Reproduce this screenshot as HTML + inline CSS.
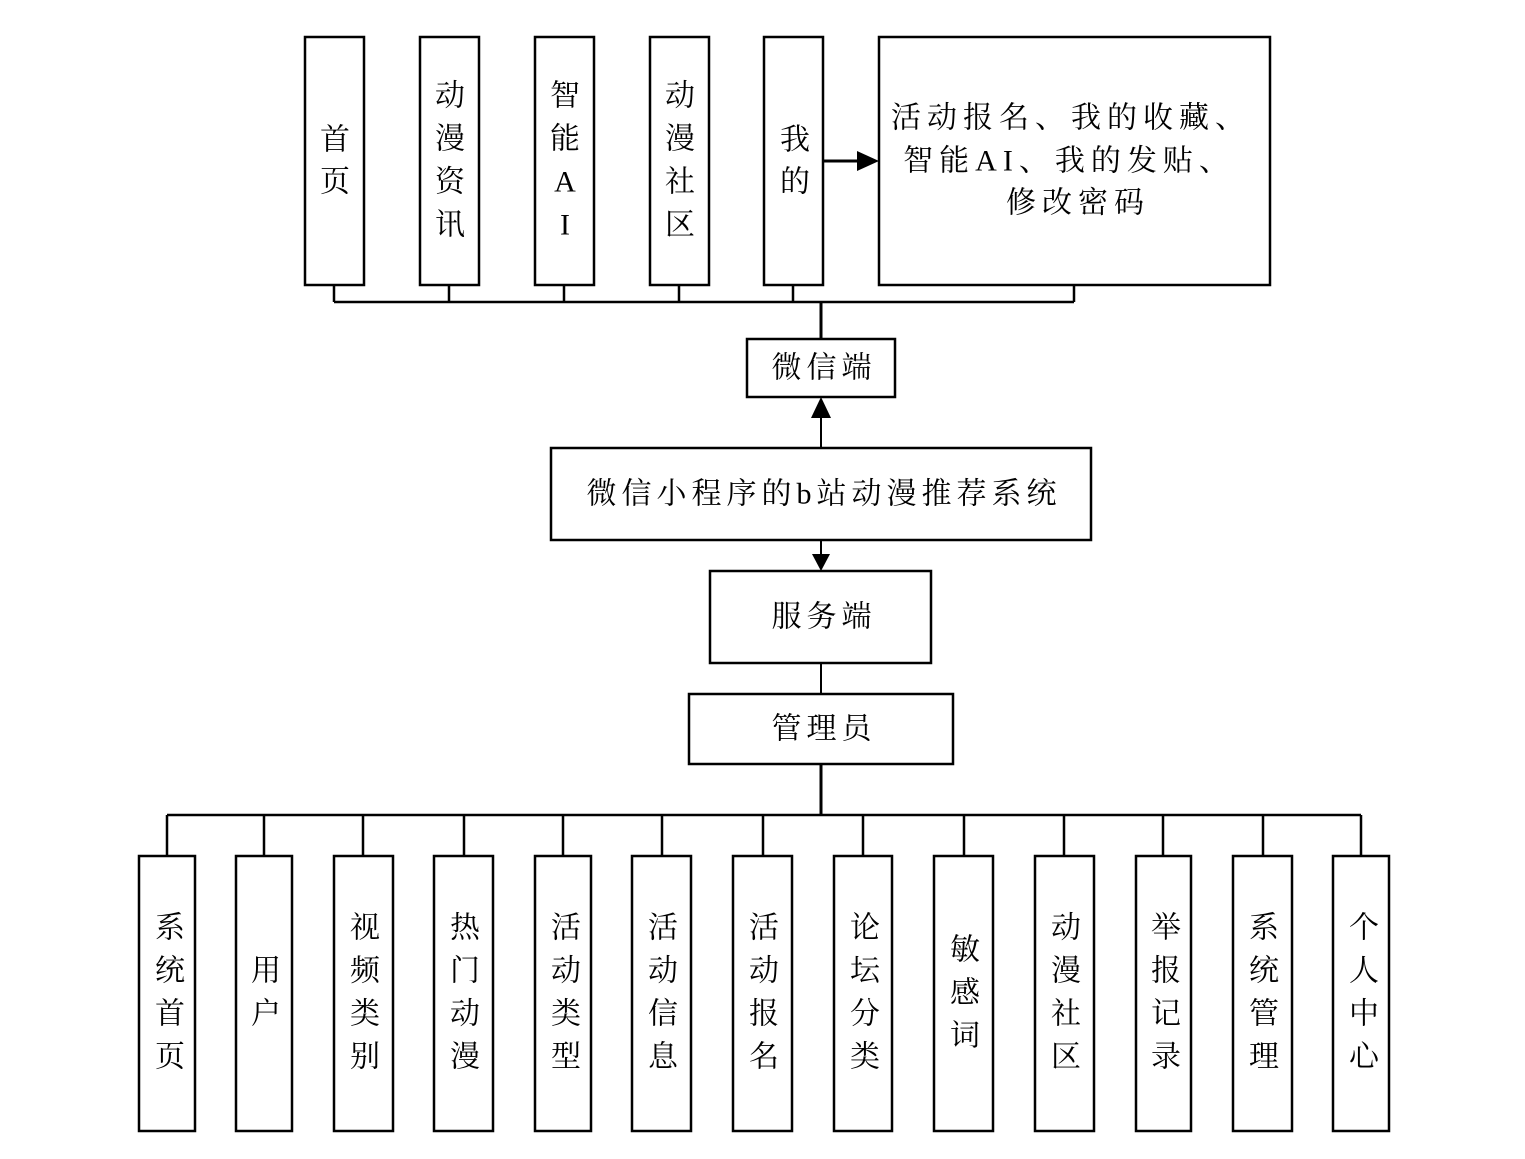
<!DOCTYPE html>
<html><head><meta charset="utf-8"><style>
html,body{margin:0;padding:0;background:#fff;}
svg{display:block;}
text{font-family:"Liberation Serif","Noto Serif CJK SC",serif;font-size:30px;fill:#000;text-anchor:middle;dominant-baseline:central;}
.h{letter-spacing:5px;}
.b{letter-spacing:6px;}
</style></head><body>
<svg width="1525" height="1159" viewBox="0 0 1525 1159" xmlns="http://www.w3.org/2000/svg">
<g fill="#fff" stroke="#000" stroke-width="2.5">
<rect x="305" y="37" width="59" height="248"/>
<rect x="420" y="37" width="59" height="248"/>
<rect x="535" y="37" width="59" height="248"/>
<rect x="650" y="37" width="59" height="248"/>
<rect x="764" y="37" width="59" height="248"/>
<rect x="879" y="37" width="391" height="248"/>
<rect x="747" y="339" width="148" height="58"/>
<rect x="551" y="448" width="540" height="92"/>
<rect x="710" y="571" width="221" height="92"/>
<rect x="689" y="694" width="264" height="70"/>
<rect x="139" y="856" width="56" height="275"/>
<rect x="236" y="856" width="56" height="275"/>
<rect x="334" y="856" width="59" height="275"/>
<rect x="434" y="856" width="59" height="275"/>
<rect x="535" y="856" width="56" height="275"/>
<rect x="632" y="856" width="59" height="275"/>
<rect x="733" y="856" width="59" height="275"/>
<rect x="834" y="856" width="58" height="275"/>
<rect x="934" y="856" width="59" height="275"/>
<rect x="1035" y="856" width="59" height="275"/>
<rect x="1136" y="856" width="55" height="275"/>
<rect x="1233" y="856" width="59" height="275"/>
<rect x="1333" y="856" width="56" height="275"/>
</g>
<g stroke="#000" stroke-width="2.5" fill="none">
<path d="M334 285V302M449 285V302M564 285V302M679 285V302M793 285V302M1074 285V302M334 302H1074"/>
<path d="M821 302V339" stroke-width="3"/>
<path d="M821 448V415" stroke-width="2"/>
<path d="M821 540V555" stroke-width="2"/>
<path d="M821 663V694" stroke-width="2"/>
<path d="M821 764V815" stroke-width="3"/>
<path d="M167 815H1361"/>
<path d="M167 815V856M264 815V856M363 815V856M464 815V856M563 815V856M662 815V856M763 815V856M863 815V856M964 815V856M1064 815V856M1163 815V856M1263 815V856M1361 815V856"/>
<path d="M823 161H858" stroke-width="3"/>
</g>
<g fill="#000">
<polygon points="879,161 857,151 857,171"/>
<polygon points="821,397 811,418 831,418"/>
<polygon points="821,571 812,554 830,554"/>
</g>
<text x="335" y="140">首</text><text x="335" y="182">页</text>
<text x="450" y="96">动</text><text x="450" y="139">漫</text><text x="450" y="182">资</text><text x="450" y="225">讯</text>
<text x="565" y="96">智</text><text x="565" y="139">能</text><text x="565" y="182">A</text><text x="565" y="225">I</text>
<text x="680" y="96">动</text><text x="680" y="139">漫</text><text x="680" y="182">社</text><text x="680" y="225">区</text>
<text x="795" y="140">我</text><text x="795" y="182">的</text>
<text class="b" x="1071" y="118">活动报名、我的收藏、</text>
<text class="b" x="1069" y="161">智能AI、我的发贴、</text>
<text class="b" x="1078" y="203">修改密码</text>
<text class="h" x="824" y="368">微信端</text>
<text class="h" x="824" y="494">微信小程序的b站动漫推荐系统</text>
<text class="h" x="824" y="617">服务端</text>
<text class="h" x="824" y="729">管理员</text>
<g>
<text x="170" y="928">系</text><text x="170" y="971">统</text><text x="170" y="1014">首</text><text x="170" y="1057">页</text>
<text x="266" y="971">用</text><text x="266" y="1014">户</text>
<text x="365" y="928">视</text><text x="365" y="971">频</text><text x="365" y="1014">类</text><text x="365" y="1057">别</text>
<text x="465" y="928">热</text><text x="465" y="971">门</text><text x="465" y="1014">动</text><text x="465" y="1057">漫</text>
<text x="566" y="928">活</text><text x="566" y="971">动</text><text x="566" y="1014">类</text><text x="566" y="1057">型</text>
<text x="663" y="928">活</text><text x="663" y="971">动</text><text x="663" y="1014">信</text><text x="663" y="1057">息</text>
<text x="764" y="928">活</text><text x="764" y="971">动</text><text x="764" y="1014">报</text><text x="764" y="1057">名</text>
<text x="865" y="928">论</text><text x="865" y="971">坛</text><text x="865" y="1014">分</text><text x="865" y="1057">类</text>
<text x="965" y="950">敏</text><text x="965" y="993">感</text><text x="965" y="1036">词</text>
<text x="1066" y="928">动</text><text x="1066" y="971">漫</text><text x="1066" y="1014">社</text><text x="1066" y="1057">区</text>
<text x="1166" y="928">举</text><text x="1166" y="971">报</text><text x="1166" y="1014">记</text><text x="1166" y="1057">录</text>
<text x="1264" y="928">系</text><text x="1264" y="971">统</text><text x="1264" y="1014">管</text><text x="1264" y="1057">理</text>
<text x="1364" y="928">个</text><text x="1364" y="971">人</text><text x="1364" y="1014">中</text><text x="1364" y="1057">心</text>
</g>
</svg>
</body></html>
